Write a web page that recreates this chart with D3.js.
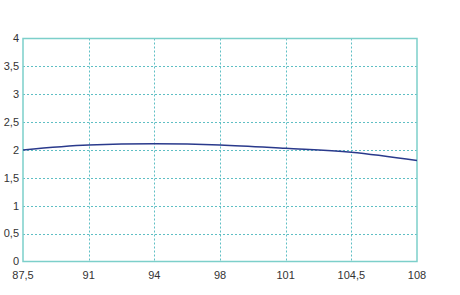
<meta charset="utf-8">
<style>
  body { margin: 0; background: #fff; }
  text { font-family: "Liberation Sans", Arial, sans-serif; font-size: 11px; fill: #333; }
  .grid line { stroke: #5fbfc4; stroke-width: 1px; stroke-dasharray: 2,2; }
</style>
<div id="chart"></div>
<script src="https://d3js.org/d3.v7.min.js"></script>
<script>
  var categories = ["87,5", "91", "94", "98", "101", "104,5", "108"];
  var values = [2.00, 2.09, 2.11, 2.09, 2.03, 1.96, 1.81];
  var yTicks = [0, 0.5, 1, 1.5, 2, 2.5, 3, 3.5, 4];

  var width = 460, height = 295;
  var margin = {top: 38.5, right: 43, bottom: 33.5, left: 23};

  var svg = d3.select("#chart").append("svg")
      .attr("width", width)
      .attr("height", height);

  var x = d3.scalePoint()
      .domain(categories)
      .range([margin.left, width - margin.right]);
  var y = d3.scaleLinear()
      .domain([0, 4])
      .range([height - margin.bottom, margin.top]);

  var fmt = function(d) { return String(d).replace(".", ","); };

  // grid
  var grid = svg.append("g").attr("class", "grid");
  grid.selectAll(".h")
      .data(yTicks.filter(function(d) { return d > 0 && d < 4; }))
      .enter().append("line")
      .attr("x1", margin.left).attr("x2", width - margin.right)
      .attr("y1", function(d) { return Math.round(y(d)) + 0.5; })
      .attr("y2", function(d) { return Math.round(y(d)) + 0.5; });
  grid.selectAll(".v")
      .data(categories.slice(1, -1))
      .enter().append("line")
      .attr("y1", margin.top).attr("y2", height - margin.bottom)
      .attr("x1", function(d) { return Math.round(x(d)) + 0.5; })
      .attr("x2", function(d) { return Math.round(x(d)) + 0.5; });

  // plot frame
  svg.append("rect")
      .attr("x", margin.left)
      .attr("y", margin.top)
      .attr("width", width - margin.left - margin.right)
      .attr("height", height - margin.top - margin.bottom)
      .attr("fill", "none")
      .attr("stroke", "#7ccfca")
      .attr("stroke-width", 1.5);

  // tick labels
  svg.append("g").selectAll("text")
      .data(yTicks)
      .enter().append("text")
      .attr("x", margin.left - 4)
      .attr("y", function(d) { return y(d); })
      .attr("dy", "0.35em")
      .attr("text-anchor", "end")
      .text(fmt);

  svg.append("g").selectAll("text")
      .data(categories)
      .enter().append("text")
      .attr("x", function(d) { return x(d); })
      .attr("y", height - margin.bottom + 17)
      .attr("text-anchor", "middle")
      .text(function(d) { return d; });

  // curve
  var line = d3.line()
      .x(function(d, i) { return x(categories[i]); })
      .y(function(d) { return y(d); })
      .curve(d3.curveMonotoneX);

  svg.append("path")
      .datum(values)
      .attr("fill", "none")
      .attr("stroke", "#2a3a8c")
      .attr("stroke-width", 1.5)
      .attr("d", line);
</script>
